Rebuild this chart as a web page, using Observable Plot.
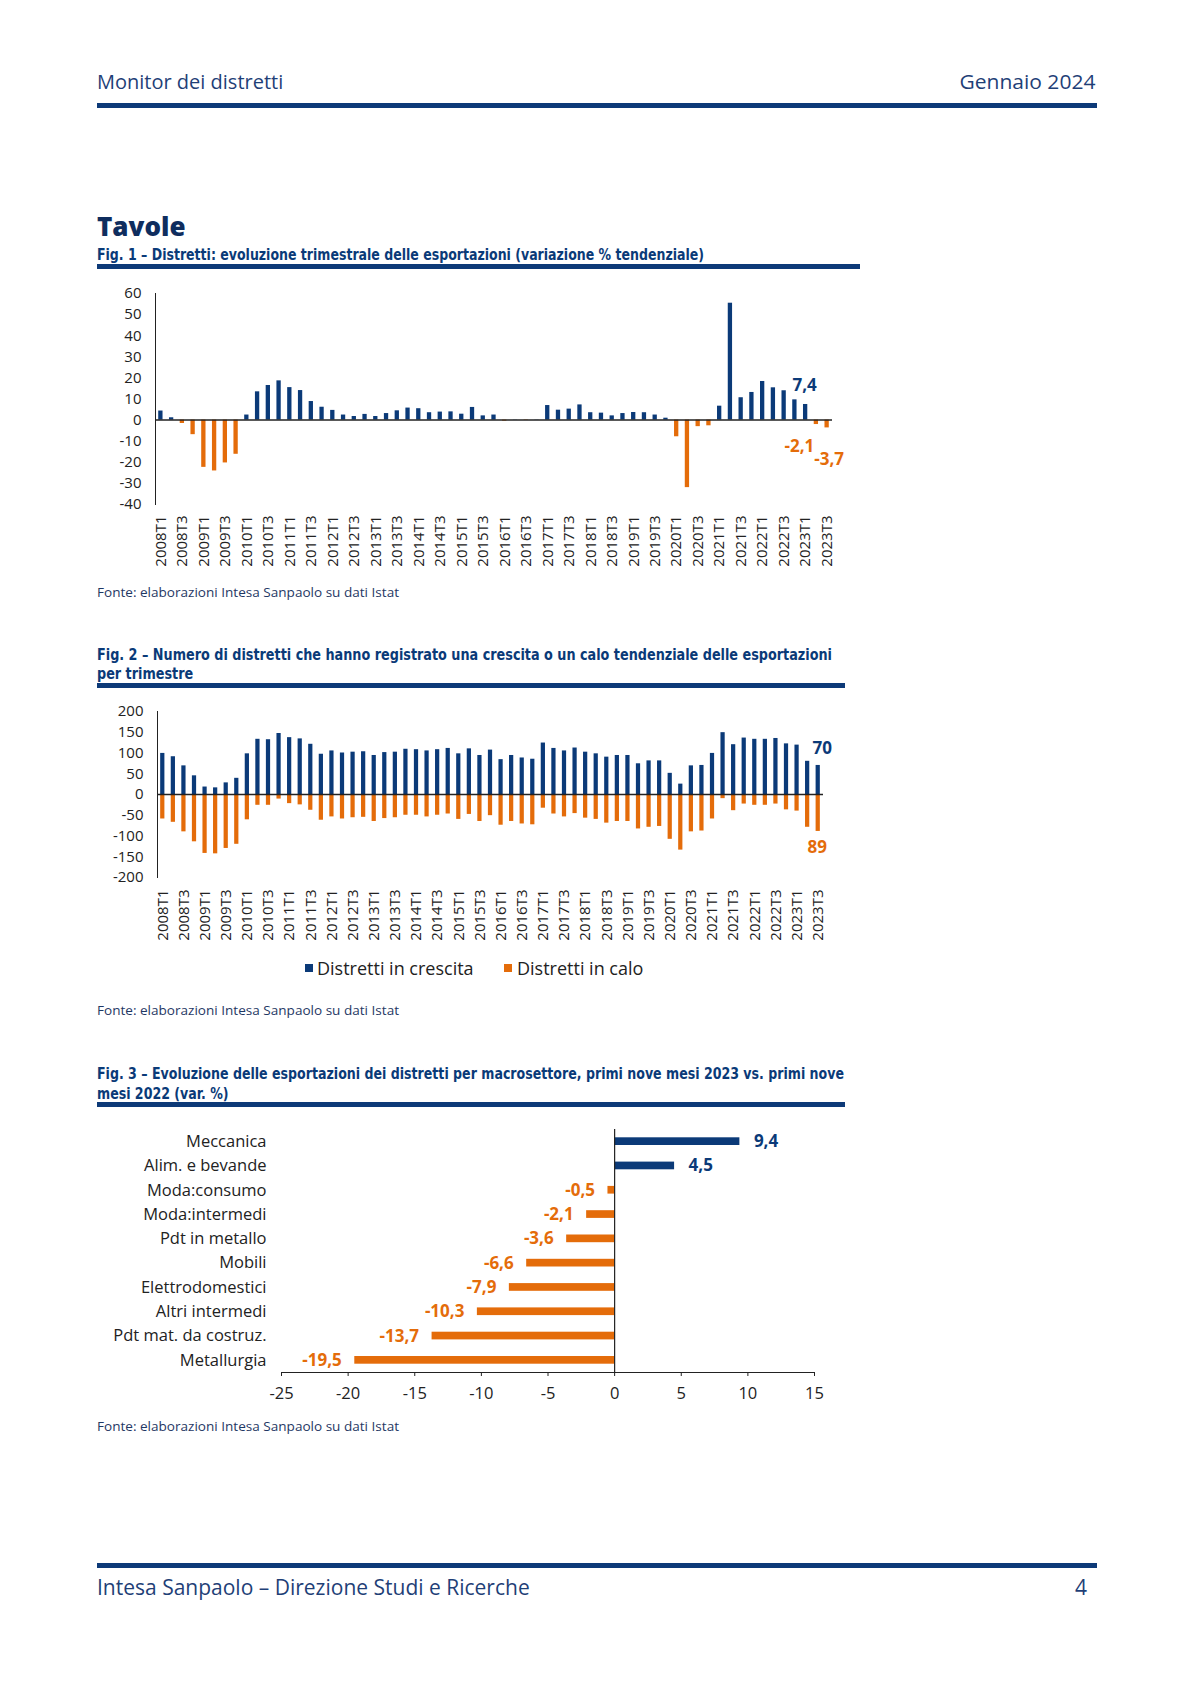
<!DOCTYPE html>
<html><head><meta charset="utf-8">
<script src="https://cdn.jsdelivr.net/npm/d3@7"></script>
<script src="https://cdn.jsdelivr.net/npm/@observablehq/plot@0.6"></script>
<style>
body{margin:0;background:#fff;}
#page{position:relative;width:1200px;height:1697px;overflow:hidden;font-family:"Open Sans",sans-serif;background:#fff;}
.abs{position:absolute;white-space:nowrap;}
.rule{position:absolute;background:#0d3a78;}
.title{position:absolute;font-family:"Liberation Sans Narrow","DejaVu Sans Condensed",sans-serif;font-weight:bold;font-size:15px;color:#0a3a78;line-height:19px;white-space:nowrap;}
.fonte{position:absolute;font-size:13px;color:#1f3864;line-height:16px;white-space:nowrap;}
.chart{position:absolute;left:97px;}
.chart svg{overflow:visible;}
</style></head><body><div id="page">
<div class="abs" style="left:97px;top:70px;font-size:20px;line-height:24px;color:#1f3f77;">Monitor dei distretti</div>
<div class="abs" id="hdrR" style="right:105px;top:70px;font-size:20px;line-height:24px;color:#1f3f77;">Gennaio 2024</div>
<div class="rule" style="left:97px;top:103px;width:1000px;height:5px;"></div>
<div class="abs" style="left:97px;top:209px;font-size:26px;line-height:34px;font-weight:800;color:#0f2d5e;">Tavole</div>

<div class="title" id="t1" style="left:97px;top:246px;">Fig. 1 – Distretti: evoluzione trimestrale delle esportazioni (variazione % tendenziale)</div>
<div class="rule" style="left:97px;top:264px;width:763px;height:4.5px;"></div>
<div class="chart" id="fig1" style="top:280px;"></div>
<div class="fonte" id="s1" style="left:97px;top:584px;">Fonte: elaborazioni Intesa Sanpaolo su dati Istat</div>

<div class="title" id="t2a" style="left:97px;top:646px;">Fig. 2 – Numero di distretti che hanno registrato una crescita o un calo tendenziale delle esportazioni</div>
<div class="title" id="t2b" style="left:97px;top:665px;">per trimestre</div>
<div class="rule" style="left:97px;top:683px;width:748px;height:4.5px;"></div>
<div class="chart" id="fig2" style="top:700px;"></div>
<div id="legend"></div>
<div class="fonte" id="s2" style="left:97px;top:1002px;">Fonte: elaborazioni Intesa Sanpaolo su dati Istat</div>

<div class="title" id="t3a" style="left:97px;top:1065px;">Fig. 3 – Evoluzione delle esportazioni dei distretti per macrosettore, primi nove mesi 2023 vs. primi nove</div>
<div class="title" id="t3b" style="left:97px;top:1085px;">mesi 2022 (var. %)</div>
<div class="rule" style="left:97px;top:1102px;width:748px;height:4.5px;"></div>
<div class="chart" id="fig3" style="top:1120px;"></div>
<div class="fonte" id="s3" style="left:97px;top:1418px;">Fonte: elaborazioni Intesa Sanpaolo su dati Istat</div>

<div class="rule" style="left:97px;top:1563px;width:1000px;height:5px;"></div>
<div class="abs" style="left:97px;top:1575px;font-size:21px;line-height:24px;color:#1f3f77;">Intesa Sanpaolo – Direzione Studi e Ricerche</div>
<div class="abs" style="right:113px;top:1575px;font-size:21px;line-height:24px;color:#1f3f77;">4</div>
</div>
<script>
// ---------- DATA ----------
const years = [2008,2009,2010,2011,2012,2013,2014,2015,2016,2017,2018,2019,2020,2021,2022,2023];
const quarters = ["T1","T2","T3","T4"];
const periods = years.flatMap(y => quarters.map(q => y + q)).slice(0, 63); // 2008T1 .. 2023T3
const periodTicks = periods.filter(p => p.endsWith("T1") || p.endsWith("T3"));

// Fig. 1 – variazione % tendenziale export distretti
const exportGrowth = [4.3, 1.1, -1.6, -6.9, -22.4, -24.1, -20.3, -16.2,
  2.4, 13.4, 16.4, 18.6, 15.4, 14.0, 8.8, 6.1,
  4.6, 2.4, 1.7, 2.7, 1.7, 3.1, 4.4, 5.7,
  5.4, 3.5, 3.8, 3.9, 2.8, 6.0, 2.0, 2.4,
  -0.5, 0.1, -0.2, 0.1, 6.9, 4.7, 5.2, 7.2,
  3.5, 3.3, 2.0, 3.1, 3.6, 3.5, 2.4, 0.9,
  -7.9, -32.0, -3.1, -2.7, 6.6, 55.4, 10.6, 13.1,
  18.3, 15.3, 13.9, 9.6, 7.4, -2.1, -3.7];
const fig1YTicks = [-40, -30, -20, -10, 0, 10, 20, 30, 40, 50, 60];

// Fig. 2 – numero distretti in crescita / in calo
const districtsUp = [99, 91, 69, 45, 18, 16, 28, 39, 98, 133,
  132, 147, 137, 134, 121, 97, 105, 100, 102, 103,
  94, 101, 102, 109, 108, 105, 108, 111, 98, 110,
  94, 107, 84, 94, 88, 85, 124, 111, 105, 112,
  102, 98, 90, 94, 94, 74, 81, 81, 51, 25,
  69, 70, 99, 149, 120, 136, 133, 133, 135, 122,
  119, 80, 70];
const districtsDown = [59, 67, 90, 114, 142, 143, 130, 120, 61, 26,
  26, 11, 22, 25, 38, 62, 54, 59, 56, 55,
  65, 58, 56, 50, 50, 54, 50, 47, 60, 48,
  65, 51, 74, 65, 71, 73, 33, 47, 54, 46,
  57, 60, 69, 65, 65, 83, 79, 77, 108, 134,
  90, 88, 59, 10, 39, 23, 26, 26, 23, 37,
  40, 79, 89];
const fig2YTicks = [-200, -150, -100, -50, 0, 50, 100, 150, 200];
const seriesNames = ["Distretti in crescita", "Distretti in calo"];

// Fig. 3 – macrosettori
const sectors = ["Meccanica", "Alim. e bevande", "Moda:consumo", "Moda:intermedi", "Pdt in metallo",
  "Mobili", "Elettrodomestici", "Altri intermedi", "Pdt mat. da costruz.", "Metallurgia"];
const sectorChange = [9.4, 4.5, -0.5, -2.1, -3.6, -6.6, -7.9, -10.3, -13.7, -19.5];
const fig3XTicks = [-25, -20, -15, -10, -5, 0, 5, 10, 15];

// ---------- STYLE ----------
const BLUE = "#0b3a78", ORANGE = "#e46c0a", INK = "#222";
const FONT = '"Open Sans", sans-serif';
const fmt = v => (Math.round(v * 10) / 10).toFixed(1).replace(".", ",");
const plain = d => String(d);

// ---------- FIG 1 ----------
const f1 = periods.map((p, i) => ({period: p, value: exportGrowth[i]}));
const n = f1.length;
document.getElementById("fig1").append(Plot.plot({
  width: 770, height: 294,
  marginLeft: 58, marginRight: 35, marginTop: 13, marginBottom: 70,
  style: {fontFamily: FONT, fontSize: "15px", color: INK, background: "transparent"},
  x: {domain: periods, paddingInner: 0.6, paddingOuter: 0.3, round: false, ticks: periodTicks, tickRotate: -90, tickSize: 0, tickPadding: 11, label: null},
  y: {domain: [-40, 60], ticks: fig1YTicks, tickFormat: plain, tickSize: 0, tickPadding: 14, label: null, line: true},
  marks: [
    Plot.barY(f1.filter(d => d.value >= 0), {x: "period", y: "value", fill: BLUE}),
    Plot.barY(f1.filter(d => d.value < 0), {x: "period", y: "value", fill: ORANGE}),
    Plot.ruleY([0], {stroke: INK, strokeWidth: 1.5}),
    Plot.text([f1[n - 3]], {x: "period", y: "value", text: d => fmt(d.value), fill: BLUE, fontWeight: "bold", fontSize: 17, dx: -1, dy: -19}),
    Plot.text([f1[n - 2]], {x: "period", y: "value", text: d => fmt(d.value), fill: ORANGE, fontWeight: "bold", fontSize: 17, dx: -17, dy: 22}),
    Plot.text([f1[n - 1]], {x: "period", y: "value", text: d => fmt(d.value), fill: ORANGE, fontWeight: "bold", fontSize: 17, dx: 2, dy: 32})
  ]
}));

// ---------- FIG 2 ----------
const f2 = periods.map((p, i) => ({period: p, up: districtsUp[i], down: districtsDown[i]}));
document.getElementById("fig2").append(Plot.plot({
  width: 770, height: 247,
  marginLeft: 60, marginRight: 44, marginTop: 11, marginBottom: 70,
  style: {fontFamily: FONT, fontSize: "15px", color: INK, background: "transparent"},
  x: {domain: periods, paddingInner: 0.6, paddingOuter: 0.3, round: false, ticks: periodTicks, tickRotate: -90, tickSize: 0, tickPadding: 12, label: null},
  y: {domain: [-200, 200], ticks: fig2YTicks, tickFormat: plain, tickSize: 0, tickPadding: 14, label: null, line: true},
  marks: [
    Plot.barY(f2, {x: "period", y: "up", fill: BLUE}),
    Plot.barY(f2, {x: "period", y: d => -d.down, fill: ORANGE}),
    Plot.ruleY([0], {stroke: INK, strokeWidth: 1.5}),
    Plot.text([f2[n - 1]], {x: "period", y: "up", text: d => String(d.up), fill: BLUE, fontWeight: "bold", fontSize: 17, dx: 4, dy: -17}),
    Plot.text([f2[n - 1]], {x: "period", y: d => -d.down, text: d => String(d.down), fill: ORANGE, fontWeight: "bold", fontSize: 17, dx: -1, dy: 16})
  ]
}));

// legend
const legend = document.getElementById("legend");
[[BLUE, 305, 317], [ORANGE, 504, 517]].forEach(([c, sx, tx], i) => {
  const sq = document.createElement("div");
  sq.style.cssText = `position:absolute;left:${sx}px;top:964px;width:8px;height:8px;background:${c};`;
  const t = document.createElement("div");
  t.className = "abs";
  t.style.cssText = `left:${tx}px;top:957px;font-size:18px;line-height:22px;color:${INK};`;
  t.textContent = seriesNames[i];
  legend.append(sq, t);
});

// ---------- FIG 3 ----------
const f3 = sectors.map((s, i) => ({sector: s, value: sectorChange[i]}));
document.getElementById("fig3").append(Plot.plot({
  width: 770, height: 288,
  marginLeft: 184, marginRight: 53, marginTop: 9, marginBottom: 36,
  style: {fontFamily: FONT, fontSize: "16.5px", color: INK, background: "transparent"},
  x: {domain: [-25, 15], ticks: fig3XTicks, tickFormat: plain, tickSize: 4, tickPadding: 11, label: null, line: true},
  y: {domain: sectors, padding: 0, round: false, tickSize: 0, tickPadding: 15, label: null},
  marks: [
    Plot.barX(f3, {y: "sector", x: "value", fill: d => d.value >= 0 ? BLUE : ORANGE, insetTop: 8.3, insetBottom: 8.3}),
    Plot.ruleX([0], {stroke: INK, strokeWidth: 1.2}),
    Plot.text(f3.filter(d => d.value >= 0), {y: "sector", x: "value", text: d => fmt(d.value), fill: BLUE, fontWeight: "bold", fontSize: 17, textAnchor: "start", dx: 14}),
    Plot.text(f3.filter(d => d.value < 0), {y: "sector", x: "value", text: d => fmt(d.value), fill: ORANGE, fontWeight: "bold", fontSize: 17, textAnchor: "end", dx: -13})
  ]
}));

// ---------- fit text widths to the layout ----------
function fit(id, target, scale, origin) {
  const el = document.getElementById(id);
  const s = scale || target / el.getBoundingClientRect().width;
  el.style.transformOrigin = (origin || "0") + " 50%";
  el.style.transform = `scaleX(${s})`;
  return s;
}
fit("t1", 607);
const s2 = fit("t2a", 735); fit("t2b", 0, s2);
const s3 = fit("t3a", 747); fit("t3b", 0, s3);
["s1", "s2", "s3"].forEach(id => fit(id, 302));
fit("hdrR", 136, 0, "100%");
</script></body></html>
